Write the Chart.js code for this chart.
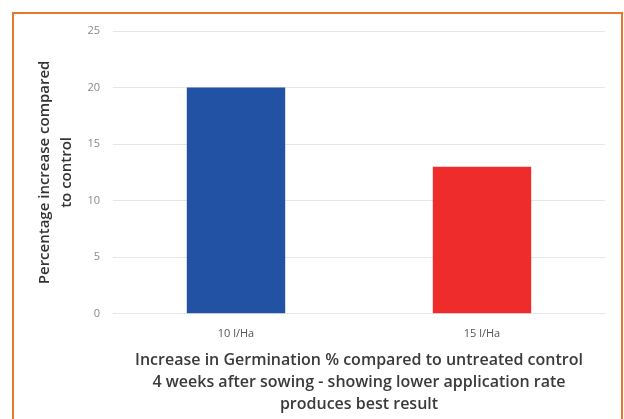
<!DOCTYPE html>
<html>
<head>
<meta charset="utf-8">
<script src="https://cdn.jsdelivr.net/npm/chart.js@4.4.1/dist/chart.umd.min.js"></script>
<style>
  html, body { margin: 0; padding: 0; background: #fff; }
  #wrap { position: relative; width: 624px; height: 419px; overflow: hidden; }
  #frame { position: absolute; left: 12px; top: 12px; width: 607px; height: 460px;
           border: 2px solid #e9772b; border-bottom: none; pointer-events: none; }
  canvas { position: absolute; left: 0; top: 0; }
</style>
</head>
<body>
<div id="wrap">
  <canvas id="c" width="624" height="419"></canvas>
  <div id="frame"></div>
</div>
<script>
// values
const categories = ['10 l/Ha', '15 l/Ha'];
const increase   = [20, 13];
const barColors  = ['#2152a3', '#ee2c2c'];
const yTitle = ['Percentage increase compared', 'to control'];
const xTitle = [
    'Increase in Germination % compared to untreated control',
    '4 weeks after sowing - showing lower application rate',
    'produces best result',
];

const FONT = '"Open Sans", Lato, sans-serif';

new Chart(document.getElementById('c'), {
    type: 'bar',
    data: {
        labels: categories,
        datasets: [{
            data: increase,
            backgroundColor: barColors,
            borderWidth: 0,
            barPercentage: 0.4,
            categoryPercentage: 1,
        }],
    },
    options: {
        animation: false,
        responsive: false,
        layout: { padding: { left: 33, right: 19, top: 31, bottom: 3 } },
        plugins: {
            legend: { display: false },
            tooltip: { enabled: false },
            title: {
                display: true,
                position: 'bottom',
                fullSize: false,
                text: xTitle,
                color: '#3a3a3a',
                font: { family: FONT, size: 16, weight: 600, lineHeight: 1.4 },
                padding: { top: 5, bottom: 0 },
            },
        },
        scales: {
            x: {
                grid: { display: false, drawTicks: false },
                border: { display: false },
                ticks: { color: '#555', font: { family: FONT, size: 11 }, padding: 13 },
                afterFit: s => { s.height = 30; },
            },
            y: {
                min: 0, max: 25,
                ticks: { stepSize: 5, color: '#888', font: { family: FONT, size: 11 }, padding: 13 },
                grid: { color: '#e6e6e6', drawTicks: false },
                border: { display: false },
                title: {
                    display: true,
                    text: yTitle,
                    color: '#333',
                    font: { family: FONT, size: 15, weight: 600, lineHeight: 1.5 },
                    padding: 0,
                },
                afterFit: s => { s.width = 80; },
            },
        },
    },
});
</script>
</body>
</html>
